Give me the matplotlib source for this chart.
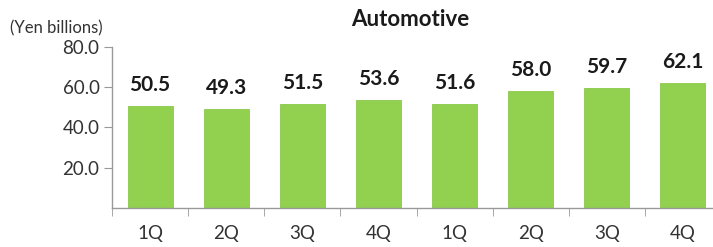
import numpy as np
import matplotlib.pyplot as plt
from matplotlib.ticker import FixedLocator

quarters = ['1Q', '2Q', '3Q', '4Q', '1Q', '2Q', '3Q', '4Q']
sales = [50.5, 49.3, 51.5, 53.6, 51.6, 58.0, 59.7, 62.1]

plt.rcParams['font.family'] = ['Lato', 'DejaVu Sans']

fig = plt.figure(figsize=(7.13, 2.47), dpi=100)
ax = fig.add_axes([112 / 713, 39 / 247, 609 / 713, 161 / 247])

x = np.arange(len(sales))
bars = ax.bar(x, sales, width=0.59, color='#92D050', edgecolor='#8CC84B', linewidth=0.6)

# value labels above each bar
for xi, v in zip(x, sales):
    ax.annotate(f'{v:.1f}', (xi, v), xytext=(0, 8), textcoords='offset points',
                ha='center', va='bottom', fontsize=15, fontweight='bold', color='#1a1a1a')

ax.set_xlim(-0.5, len(sales) - 0.5)
ax.set_ylim(0, 80)
ax.set_yticks([20, 40, 60, 80])
ax.set_yticklabels(['20.0', '40.0', '60.0', '80.0'])
ax.set_xticks(x)
ax.set_xticklabels(quarters)
ax.xaxis.set_minor_locator(FixedLocator(np.arange(-0.5, len(sales), 1)))
ax.tick_params(axis='x', which='major', length=0, pad=12, labelsize=13.5, colors='#333333')
ax.tick_params(axis='x', which='minor', length=6, color='#999999', direction='out')
ax.tick_params(axis='y', length=6, color='#999999', labelsize=13.5, labelcolor='#333333', pad=3)

for s in ['top', 'right']:
    ax.spines[s].set_visible(False)
for s in ['left', 'bottom']:
    ax.spines[s].set_color('#999999')
    ax.spines[s].set_linewidth(1)

fig.text(410 / 713, 1 - 20 / 247, 'Automotive', ha='center', va='center',
         fontsize=16, fontweight='bold', color='#1a1a1a')
fig.text(10 / 713, 1 - 28 / 247, '(Yen billions)', ha='left', va='center',
         fontsize=12, color='#333333')

fig.savefig('out.png', dpi=100)
